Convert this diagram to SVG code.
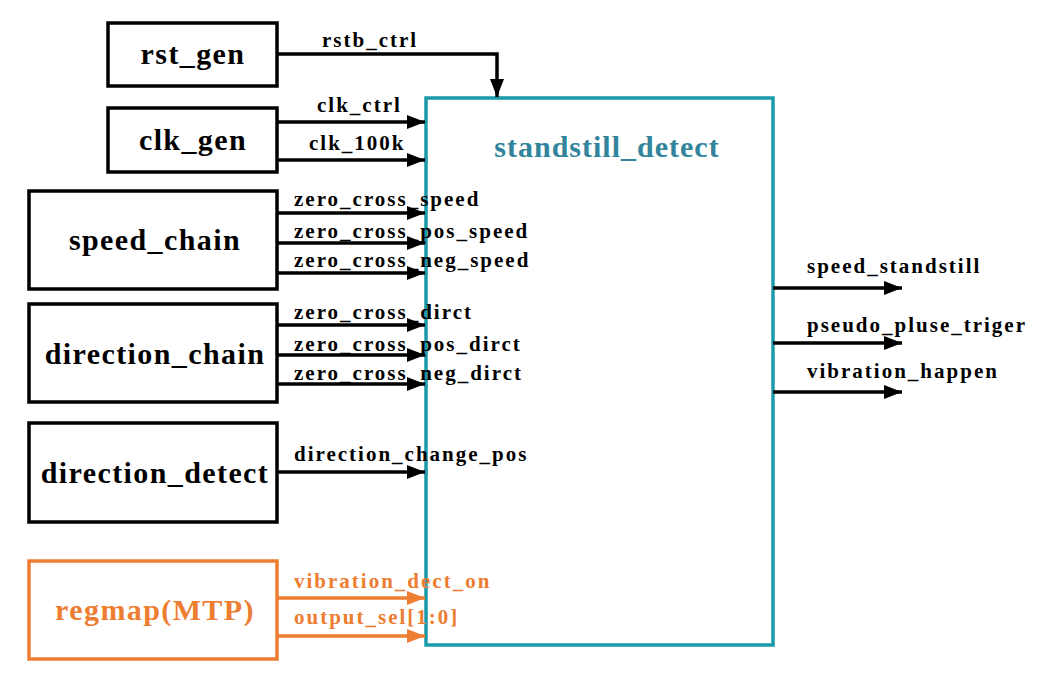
<svg xmlns="http://www.w3.org/2000/svg" width="1048" height="675" viewBox="0 0 1048 675" font-family="'Liberation Serif','Times New Roman',Times,'DejaVu Serif',serif">
<defs>
<marker id="ab" viewBox="0 0 18 14" refX="18" refY="7" markerWidth="18" markerHeight="14" markerUnits="userSpaceOnUse" orient="auto"><path d="M0,0 L18,7 L0,14 Z" fill="#000"/></marker>
<marker id="ao" viewBox="0 0 18 14" refX="18" refY="7" markerWidth="18" markerHeight="14" markerUnits="userSpaceOnUse" orient="auto"><path d="M0,0 L18,7 L0,14 Z" fill="#ED7D31"/></marker>
</defs>
<style>
.box{fill:#fff;stroke:#000;stroke-width:3.5}
.obox{fill:#fff;stroke:#ED7D31;stroke-width:3.5}
.main{fill:#fff;stroke:#1A9BAA;stroke-width:3.5}
.nt{font-family:'Liberation Serif','Times New Roman',Times,serif;font-weight:bold;font-size:30px;letter-spacing:1.4px;text-anchor:middle;fill:#000}
.lt{font-family:'Liberation Serif','Times New Roman',Times,serif;font-weight:bold;font-size:21px;letter-spacing:2px;fill:#000}
.w{stroke:#000;stroke-width:3.5;fill:none;marker-end:url(#ab)}
.ow{stroke:#ED7D31;stroke-width:3.5;fill:none;marker-end:url(#ao)}
</style>
<rect width="1048" height="675" fill="#fff"/>
<g id="standstill_detect"><rect class="main" x="426" y="98" width="347" height="547"/><text class="nt" x="607" y="157" style="fill:#31849B;letter-spacing:1px">standstill_detect</text></g>
<g id="rst_gen"><rect class="box" x="108" y="23" width="169" height="63"/><text class="nt" x="193" y="64">rst_gen</text></g>
<g id="clk_gen"><rect class="box" x="108" y="108" width="169" height="64"/><text class="nt" x="193" y="150">clk_gen</text></g>
<g id="speed_chain"><rect class="box" x="29" y="191" width="248" height="98"/><text class="nt" x="155" y="250">speed_chain</text></g>
<g id="direction_chain"><rect class="box" x="29" y="304" width="248" height="98"/><text class="nt" x="155" y="364">direction_chain</text></g>
<g id="direction_detect"><rect class="box" x="29" y="423" width="248" height="99"/><text class="nt" x="155" y="483">direction_detect</text></g>
<g id="regmap"><rect class="obox" x="29" y="561" width="248" height="98"/><text class="nt" x="155" y="620" style="fill:#ED7D31">regmap(MTP)</text></g>
<g id="connectors">
<path class="w" d="M277,54 H497 V97"/>
<path class="w" d="M277,122 H425"/>
<path class="w" d="M277,160 H425"/>
<path class="w" d="M277,213 H425"/>
<path class="w" d="M277,243 H425"/>
<path class="w" d="M277,273 H425"/>
<path class="w" d="M277,325 H425"/>
<path class="w" d="M277,355 H425"/>
<path class="w" d="M277,384 H425"/>
<path class="w" d="M277,472 H425"/>
<path class="ow" d="M277,598 H425"/>
<path class="ow" d="M277,636 H425"/>
<path class="w" d="M773,288 H902"/>
<path class="w" d="M773,343 H902"/>
<path class="w" d="M773,392 H902"/>
<text class="lt" x="322" y="47">rstb_ctrl</text>
<text class="lt" x="317" y="112">clk_ctrl</text>
<text class="lt" x="309" y="150">clk_100k</text>
<text class="lt" x="294" y="206">zero_cross_speed</text>
<text class="lt" x="294" y="238">zero_cross_pos_speed</text>
<text class="lt" x="294" y="267">zero_cross_neg_speed</text>
<text class="lt" x="294" y="319">zero_cross_dirct</text>
<text class="lt" x="294" y="351">zero_cross_pos_dirct</text>
<text class="lt" x="294" y="380">zero_cross_neg_dirct</text>
<text class="lt" x="294" y="461">direction_change_pos</text>
<text class="lt" x="294" y="588" style="fill:#ED7D31">vibration_dect_on</text>
<text class="lt" x="294" y="624" style="fill:#ED7D31">output_sel[1:0]</text>
<text class="lt" x="807" y="273">speed_standstill</text>
<text class="lt" x="807" y="332">pseudo_pluse_triger</text>
<text class="lt" x="807" y="378">vibration_happen</text>
</g>
</svg>
